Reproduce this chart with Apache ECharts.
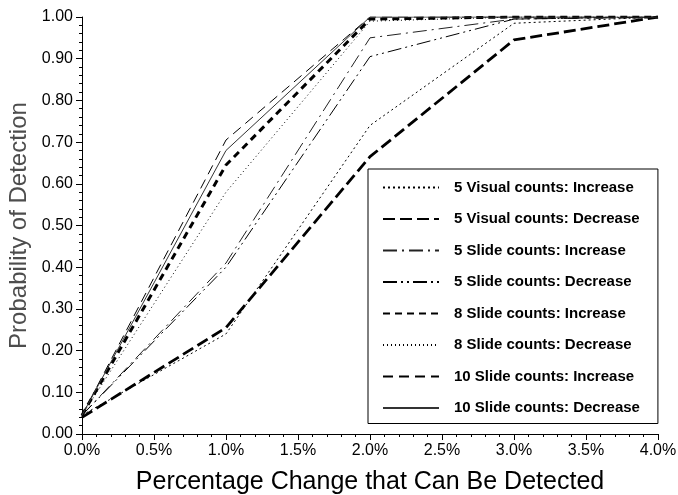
<!DOCTYPE html>
<html>
<head>
<meta charset="utf-8">
<script src="https://cdn.jsdelivr.net/npm/echarts@6/dist/echarts.min.js"></script>
<style>html,body{margin:0;padding:0;background:#fff}#c{width:678px;height:495px}</style>
</head>
<body>
<div id="c"></div>
<script>
const xValues = [0, 1, 2, 3, 4];
const seriesNames = [
  '5 Visual counts: Increase',
  '5 Visual counts: Decrease',
  '5 Slide counts: Increase',
  '5 Slide counts: Decrease',
  '8 Slide counts: Increase',
  '8 Slide counts: Decrease',
  '10 Slide counts: Increase',
  '10 Slide counts: Decrease'
];
const visualInc5 = [0.045, 0.24, 0.74, 0.985, 1.0];
const visualDec5 = [0.04, 0.255, 0.665, 0.945, 1.0];
const slideInc5 = [0.045, 0.41, 0.95, 0.995, 1.0];
const slideDec5 = [0.045, 0.40, 0.905, 0.995, 1.0];
const slideInc8 = [0.045, 0.645, 0.995, 1.0, 1.0];
const slideDec8 = [0.045, 0.58, 0.99, 1.0, 1.0];
const slideInc10 = [0.045, 0.705, 1.0, 1.0, 1.0];
const slideDec10 = [0.045, 0.68, 1.0, 1.0, 1.0];

const values = [visualInc5, visualDec5, slideInc5, slideDec5, slideInc8, slideDec8, slideInc10, slideDec10];
const styles = [
  {width: 1, type: [2, 3], color: '#000'},
  {width: 2.8, type: [12, 5], color: '#000'},
  {width: 1, type: [14, 5, 2, 5], color: '#222'},
  {width: 1, type: [14, 4, 2, 4, 2, 4], color: '#000'},
  {width: 3, type: [7, 5], color: '#000'},
  {width: 1, type: [1, 3], color: '#000'},
  {width: 1, type: [10, 6], color: '#000'},
  {width: 1, type: 'solid', color: '#333'}
];

const chart = echarts.init(document.getElementById('c'), null, {renderer: 'canvas'});
const font = 'Arial, "Liberation Sans", sans-serif';
chart.setOption({
  animation: false,
  backgroundColor: '#fff',
  grid: {left: 82, top: 17, right: 20, bottom: 61, outerBoundsMode: 'none', containLabel: false},
  legend: {
    orient: 'vertical',
    left: 368,
    top: 169,
    padding: [11, 18, 8, 14],
    itemWidth: 56,
    itemHeight: 14,
    itemGap: 16.5,
    borderColor: '#000',
    borderWidth: 1,
    backgroundColor: '#fff',
    itemStyle: {opacity: 0},
    textStyle: {fontFamily: font, fontSize: 15, fontWeight: 'bold', color: '#000', padding: [0, 0, 0, 10]},
    data: seriesNames
  },
  xAxis: {
    type: 'value', min: 0, max: 4, interval: 0.5,
    name: 'Percentage Change that Can Be Detected',
    nameLocation: 'middle', nameGap: 36,
    nameTextStyle: {fontFamily: font, fontSize: 25, color: '#000'},
    axisLine: {lineStyle: {color: '#000', width: 1}},
    axisTick: {show: true, length: 6, lineStyle: {color: '#000'}},
    minorTick: {show: true, splitNumber: 5, length: 3, lineStyle: {color: '#000'}},
    splitLine: {show: false},
    axisLabel: {fontFamily: font, fontSize: 16, color: '#000', margin: 9, formatter: v => v.toFixed(1) + '%'}
  },
  yAxis: {
    type: 'value', min: 0, max: 1, interval: 0.1,
    name: 'Probability of Detection',
    nameLocation: 'middle', nameGap: 44,
    nameTextStyle: {fontFamily: font, fontSize: 24, color: '#4d4d4d'},
    axisLine: {show: true, lineStyle: {color: '#000', width: 1}},
    axisTick: {show: true, length: 6, lineStyle: {color: '#000'}},
    minorTick: {show: true, splitNumber: 5, length: 3, lineStyle: {color: '#000'}},
    splitLine: {show: false},
    axisLabel: {fontFamily: font, fontSize: 16, color: '#000', margin: 9, formatter: v => v.toFixed(2)}
  },
  series: seriesNames.map((n, i) => ({
    name: n,
    type: 'line',
    symbol: 'none',
    data: xValues.map((x, j) => [x, values[i][j]]),
    lineStyle: styles[i],
    itemStyle: {color: styles[i].color},
    z: 2
  }))
});
</script>
</body>
</html>
